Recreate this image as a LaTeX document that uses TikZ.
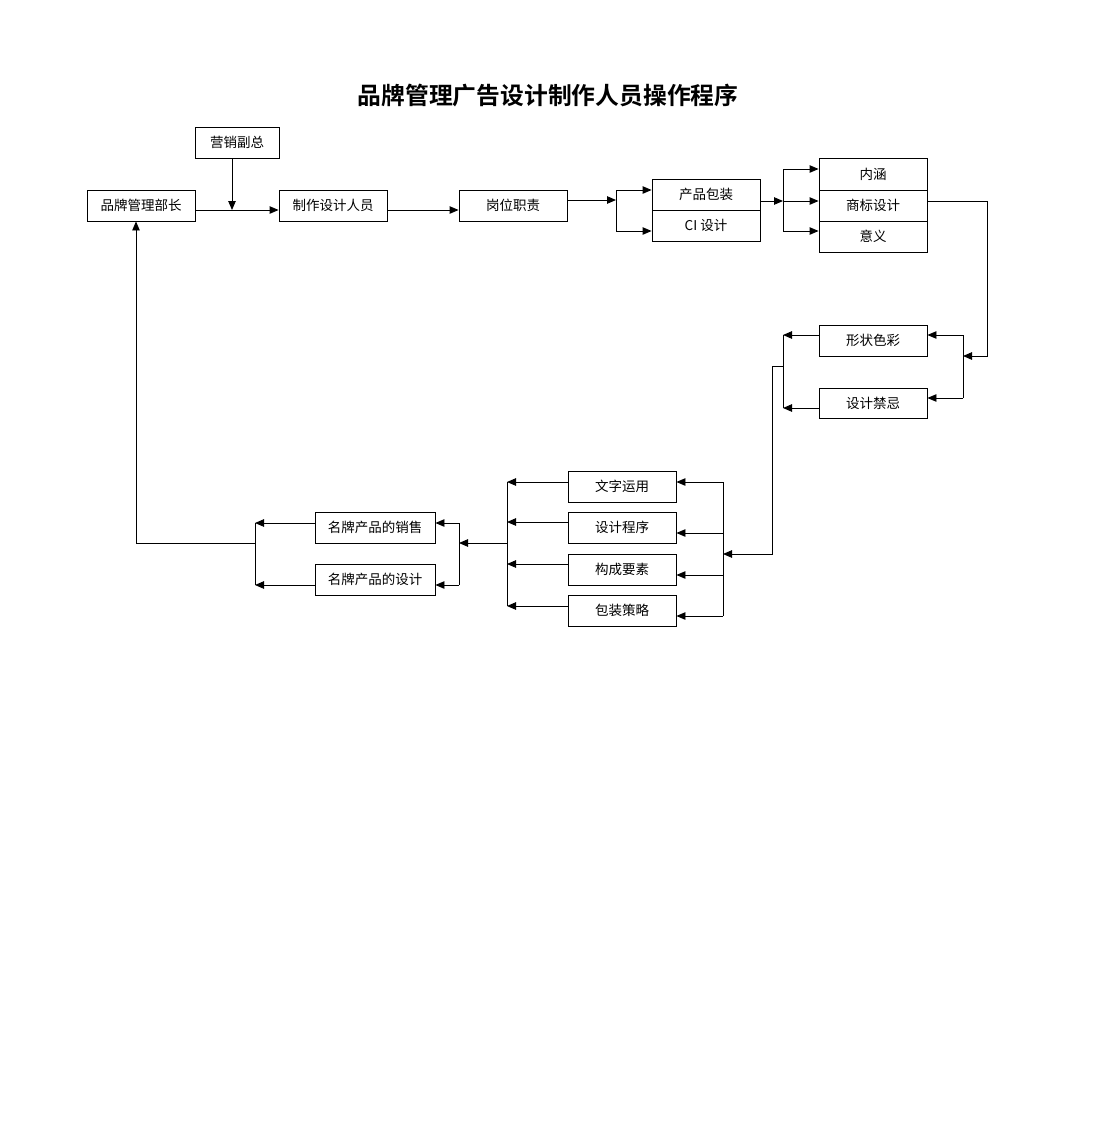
\documentclass[tikz,border=0pt]{standalone}
\usepackage{fontspec}
\usetikzlibrary{arrows.meta}
\newfontfamily\cjk{Noto Sans CJK SC}
\newfontfamily\cjkb{Noto Sans CJK SC Bold}
\begin{document}
\begin{tikzpicture}[x=1pt,y=-1pt,
  box/.style={draw,line width=0.9pt,minimum height=31pt,minimum width=108pt,inner sep=0pt,font=\cjk\fontsize{13.5}{14}\selectfont},
  ln/.style={line width=0.9pt},
  arr/.style={line width=0.9pt,-{Triangle[length=9pt,width=7.5pt]}}]
\useasboundingbox[fill=white] (0,0) rectangle (1096,1122);
\node[font=\cjkb\fontsize{23.8}{26}\selectfont] (title) at (548,96) {品牌管理广告设计制作人员操作程序};
% boxes
\node[box] (pm) at (141,205.5) {品牌管理部长};
\node[box,minimum width=84pt] (yx) at (237,142.5) {营销副总};
\node[box] (zz) at (333,205.5) {制作设计人员};
\node[box] (gw) at (513,205.5) {岗位职责};
\node[box] (cp) at (706,194.5) {产品包装};
\node[box] (ci) at (706,225.5) {CI 设计};
\node[box,minimum height=32pt] (nh) at (873,174) {内涵};
\node[box] (sb) at (873,205.5) {商标设计};
\node[box] (yy) at (873,236.5) {意义};
\node[box] (xz) at (873,340.5) {形状色彩};
\node[box,minimum height=30pt] (jj) at (873,403) {设计禁忌};
\node[box] (wz) at (622,486.5) {文字运用};
\node[box] (cx) at (622,527.5) {设计程序};
\node[box] (gc) at (622,569.5) {构成要素};
\node[box] (bz) at (622,610.5) {包装策略};
\node[box,minimum width=120pt] (xs) at (375,527.5) {名牌产品的销售};
\node[box,minimum width=120pt] (sj) at (375,579.5) {名牌产品的设计};
% junction coordinates
\coordinate (j1) at (232,210);
\coordinate (j2) at (616,200);
\coordinate (j3) at (783,201);
\coordinate (j4) at (963,356);
\coordinate (j5) at (783,366);
\coordinate (j6) at (723,554);
\coordinate (j7) at (507,543);
\coordinate (j8) at (459,543);
\coordinate (j9) at (255,543);
% top row
\draw[arr] (pm.east |- 0,210) -- (zz.west |- 0,210);
\draw[arr] (yx.south -| j1) -- (j1);
\draw[arr] (zz.east |- 0,210) -- (gw.west |- 0,210);
\draw[arr] (gw.east |- j2) -- (j2);
\draw[ln] (616,190) -- (616,231);
\draw[arr] (616,190) -- (cp.west |- 0,190);
\draw[arr] (616,231) -- (ci.west |- 0,231);
\draw[arr] (cp.east |- j3) -- (j3);
\draw[ln] (783,169) -- (783,231);
\draw[arr] (783,169) -- (nh.west |- 0,169);
\draw[arr] (j3) -- (sb.west |- j3);
\draw[arr] (783,231) -- (yy.west |- 0,231);
% right side
\draw[arr] (sb.east |- 0,201) -- (987,201) -- (987,356) -- (j4);
\draw[ln] (963,335) -- (963,398);
\draw[arr] (963,335) -- (xz.east |- 0,335);
\draw[arr] (963,398) -- (jj.east |- 0,398);
\draw[arr] (xz.west |- 0,335) -- (783,335);
\draw[arr] (jj.west |- 0,408) -- (783,408);
\draw[ln] (783,335) -- (783,408);
\draw[arr] (j5) -- (772,366) -- (772,554) -- (j6);
% middle group
\draw[ln] (723,482) -- (723,616);
\draw[arr] (723,482) -- (wz.east |- 0,482);
\draw[arr] (723,533) -- (cx.east |- 0,533);
\draw[arr] (723,575) -- (gc.east |- 0,575);
\draw[arr] (723,616) -- (bz.east |- 0,616);
\draw[arr] (wz.west |- 0,482) -- (507,482);
\draw[arr] (cx.west |- 0,522) -- (507,522);
\draw[arr] (gc.west |- 0,564) -- (507,564);
\draw[arr] (bz.west |- 0,606) -- (507,606);
\draw[ln] (507,482) -- (507,606);
\draw[arr] (j7) -- (j8);
% left group
\draw[ln] (459,523) -- (459,585);
\draw[arr] (459,523) -- (xs.east |- 0,523);
\draw[arr] (459,585) -- (sj.east |- 0,585);
\draw[arr] (xs.west |- 0,523) -- (255,523);
\draw[arr] (sj.west |- 0,585) -- (255,585);
\draw[ln] (255,523) -- (255,585);
\draw[arr] (j9) -- (136,543) -- (pm.south -| 136,0);
\end{tikzpicture}
\end{document}
